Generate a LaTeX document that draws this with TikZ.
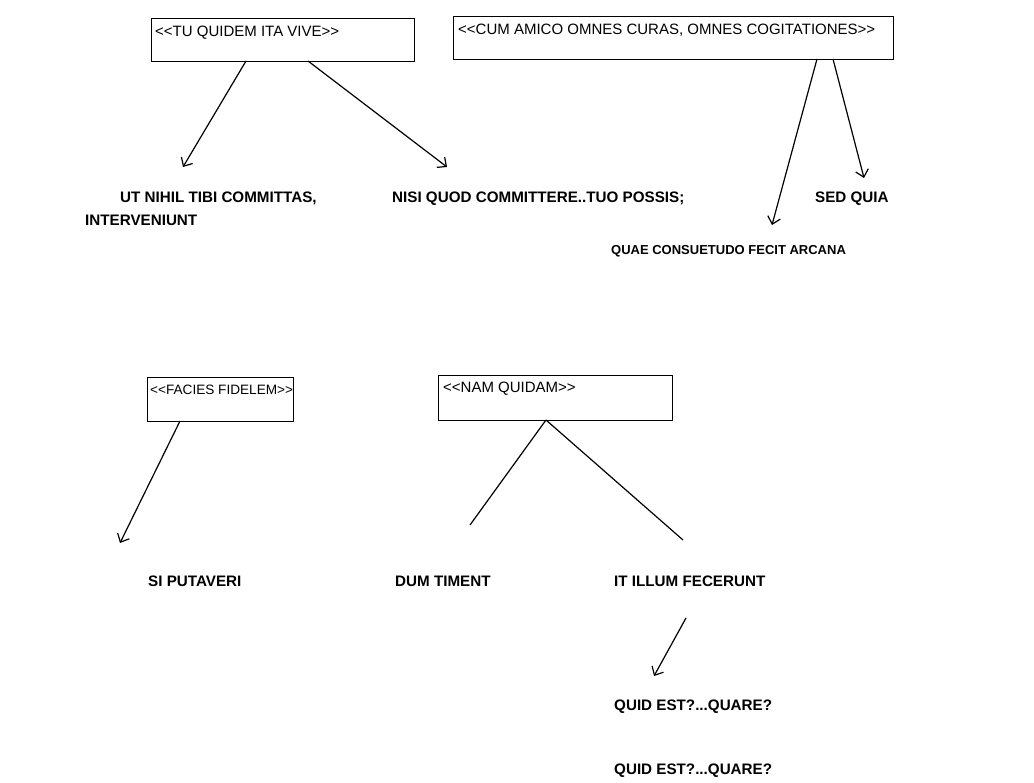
\documentclass[tikz,border=0pt]{standalone}
\usepackage{fontspec}
\setmainfont{Liberation Sans}
\usetikzlibrary{arrows.meta}
\begin{document}
\begin{tikzpicture}[x=1pt,y=-1pt,
  titlebox/.style={draw, line width=1.2pt, rectangle, anchor=north west, inner sep=0pt},
  titletext/.style={anchor=base west, inner sep=0pt, font=\fontsize{15}{18}\selectfont},
  label/.style={anchor=base west, inner sep=0pt, font=\fontsize{15.2}{18}\selectfont\bfseries},
  smalllabel/.style={anchor=base west, inner sep=0pt, font=\fontsize{13}{16}\selectfont\bfseries},
  link/.style={line width=1.2pt},
  arrowlink/.style={link, -{Straight Barb[length=7pt,width=13pt]}}]
\useasboundingbox (0,0) rectangle (1034,783);

% title boxes
\node[titlebox, minimum width=263pt, minimum height=43pt] (b1) at (151,18) {};
\node[titletext] (b1t) at (155,37) {{<}{<}TU QUIDEM ITA VIVE{>}{>}};
\node[titlebox, minimum width=440pt, minimum height=43pt] (b2) at (453,16) {};
\node[titletext] (b2t) at (458,35) {{<}{<}CUM AMICO OMNES CURAS, OMNES COGITATIONES{>}{>}};
\node[titlebox, minimum width=146pt, minimum height=44pt] (b3) at (147,377) {};
\node[titletext, font=\fontsize{13.6}{16}\selectfont] (b3t) at (150,395) {{<}{<}FACIES FIDELEM{>}{>}};
\node[titlebox, minimum width=234pt, minimum height=45pt] (b4) at (438,375) {};
\node[titletext] (b4t) at (443,393) {{<}{<}NAM QUIDAM{>}{>}};

% labels
\node[label] (l1) at (120,203) {UT NIHIL TIBI COMMITTAS,};
\node[label] (l1b) at (85,226) {INTERVENIUNT};
\node[label] (l2) at (392,203) {NISI QUOD COMMITTERE..TUO POSSIS;};
\node[label] (l3) at (815,203) {SED QUIA};
\node[smalllabel] (l4) at (611,255) {QUAE CONSUETUDO FECIT ARCANA};
\node[label] (l5) at (148,586) {SI PUTAVERI};
\node[label] (l6) at (395,586) {DUM TIMENT};
\node[label] (l7) at (614,586) {IT ILLUM FECERUNT};
\node[label] (l8) at (614,710) {QUID EST?...QUARE?};
\node[label] (l9) at (614,774) {QUID EST?...QUARE?};

% connector ends
\coordinate (a1s) at (246,61);  \coordinate (a1e) at (183,167);
\coordinate (a2s) at (308,61);  \coordinate (a2e) at (447,167);
\coordinate (a3s) at (817,59);  \coordinate (a3e) at (772,225);
\coordinate (a4s) at (833,59);  \coordinate (a4e) at (864,178);
\coordinate (a5s) at (180,421); \coordinate (a5e) at (120,543);
\coordinate (n4s) at (546,420);
\coordinate (n4l) at (470,525); \coordinate (n4r) at (683,540);
\coordinate (a6s) at (686,618); \coordinate (a6e) at (654,676);

% connectors
\draw[arrowlink] (a1s) -- (a1e);
\draw[arrowlink] (a2s) -- (a2e);
\draw[arrowlink] (a3s) -- (a3e);
\draw[arrowlink] (a4s) -- (a4e);
\draw[arrowlink] (a5s) -- (a5e);
\draw[link] (n4s) -- (n4l);
\draw[link] (n4s) -- (n4r);
\draw[arrowlink] (a6s) -- (a6e);
\end{tikzpicture}
\end{document}
